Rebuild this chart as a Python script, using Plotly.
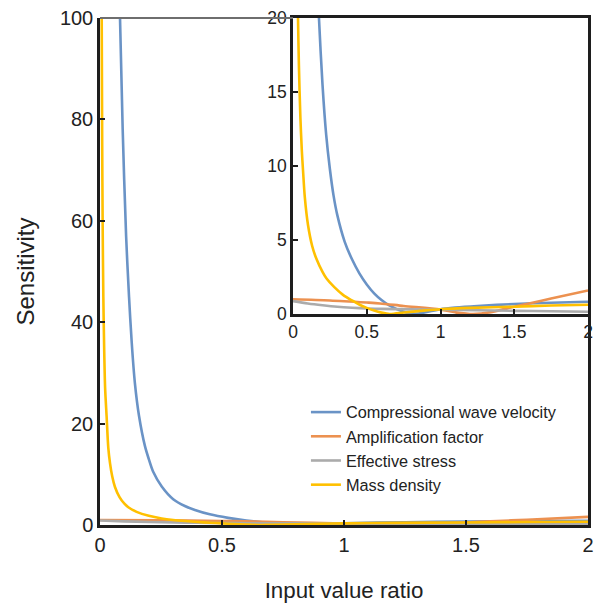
import plotly.graph_objects as go

# ---- data ----
names = ["Compressional wave velocity", "Amplification factor", "Effective stress", "Mass density"]
colors = ["#6A93C6", "#EC9150", "#ABABAB", "#FFC000"]

# Compressional wave velocity
vel_main_x = [0.082, 0.093, 0.107, 0.119, 0.13, 0.143, 0.16, 0.184, 0.2, 0.218, 0.253, 0.3, 0.35,
              0.389, 0.45, 0.525, 0.6, 0.7, 0.81, 0.9, 1.0, 1.25, 1.5, 1.75, 2.0]
vel_main_y = [100, 78, 57, 45, 36, 28, 21.5, 15.6, 13, 10.5, 7.6, 5.1, 3.7,
              2.96, 2.1, 1.4, 0.9, 0.4, 0.05, 0.15, 0.33, 0.55, 0.68, 0.77, 0.83]
# Compressional wave velocity
vel_inset_x = [0.15, 0.164, 0.176, 0.2, 0.225, 0.25, 0.275, 0.3, 0.35, 0.4, 0.45, 0.5, 0.55, 0.6,
               0.65, 0.7, 0.75, 0.8, 0.85, 0.9, 1.0, 1.1, 1.25, 1.5, 1.75, 2.0]
vel_inset_y = [28, 23.3, 20, 15.5, 12.1, 9.8, 8.0, 6.7, 4.9, 3.7, 2.75, 2.0, 1.4, 0.95,
               0.6, 0.35, 0.16, 0.02, 0.04, 0.12, 0.33, 0.44, 0.55, 0.68, 0.77, 0.83]

amp_x = [0.0, 0.25, 0.5, 0.59, 0.75, 1.0, 1.1, 1.22, 1.35, 1.5, 1.6, 1.75, 2.0]
amp_y = [1.0, 0.92, 0.78, 0.72, 0.55, 0.3, 0.12, 0.0, 0.15, 0.5, 0.72, 1.05, 1.6]

eff_x = [0.0, 0.1, 0.2, 0.3, 0.4, 0.5, 0.6, 0.8, 1.0, 1.25, 1.5, 1.75, 2.0]
eff_y = [0.88, 0.72, 0.6, 0.5, 0.43, 0.38, 0.35, 0.32, 0.3, 0.26, 0.22, 0.19, 0.16]

# Mass density
mass_main_x = [0.007, 0.009, 0.011, 0.0137, 0.017, 0.021, 0.027, 0.034, 0.041, 0.05, 0.061, 0.08,
               0.1, 0.116, 0.15, 0.2, 0.253, 0.3, 0.35, 0.4, 0.45, 0.5, 0.55, 0.6, 0.655, 0.7,
               0.8, 0.9, 1.0, 1.2, 1.5, 1.75, 2.0]
mass_main_y = [100, 75, 58.7, 45, 35, 27, 21.5, 15.2, 12.2, 9.6, 7.55, 5.5,
               4.2, 3.5, 2.6, 1.82, 1.3, 1.0, 0.78, 0.6, 0.45, 0.32, 0.2, 0.09, 0.0, 0.05,
               0.15, 0.25, 0.33, 0.42, 0.5, 0.58, 0.63]
# Mass density
mass_inset_x = [0.025, 0.03, 0.034, 0.04, 0.05, 0.06, 0.068, 0.08, 0.102, 0.13, 0.158, 0.2, 0.226,
                0.28, 0.339, 0.4, 0.452, 0.5, 0.55, 0.6, 0.655, 0.7, 0.8, 0.9, 1.0, 1.2, 1.5, 1.75, 2.0]
mass_inset_y = [28, 23, 20, 16.8, 13.3, 11, 9.7, 7.9, 6.0, 4.6, 3.75, 2.85, 2.42,
                1.82, 1.3, 0.92, 0.63, 0.42, 0.24, 0.1, 0.0, 0.05, 0.15, 0.25, 0.33, 0.42, 0.5, 0.58, 0.63]

x_ticks = [0, 0.5, 1, 1.5, 2]
x_ticktext = ["0", "0.5", "1", "1.5", "2"]
main_y_ticks = [0, 20, 40, 60, 80, 100]
inset_y_ticks = [0, 5, 10, 15, 20]

main_series = [(vel_main_x, vel_main_y), (amp_x, amp_y), (eff_x, eff_y), (mass_main_x, mass_main_y)]
inset_series = [(vel_inset_x, vel_inset_y), (amp_x, amp_y), (eff_x, eff_y), (mass_inset_x, mass_inset_y)]

fig = go.Figure()
for (xs, ys), nm, c in zip(main_series, names, colors):
    fig.add_trace(go.Scatter(x=xs, y=ys, mode="lines", name=nm, legendgroup=nm,
                             line=dict(color=c, width=2.6, shape="spline", smoothing=0.8),
                             xaxis="x", yaxis="y"))
for (xs, ys), nm, c in zip(inset_series, names, colors):
    fig.add_trace(go.Scatter(x=xs, y=ys, mode="lines", name=nm, legendgroup=nm, showlegend=False,
                             line=dict(color=c, width=2.6, shape="spline", smoothing=0.8),
                             xaxis="x2", yaxis="y2"))

axis_font = dict(family="Liberation Sans, Arial, sans-serif", color="#222222")
common = dict(showgrid=False, zeroline=False, showline=True, linecolor="#1E1E1E", linewidth=2.5,
              ticks="inside", ticklen=5, tickwidth=2, tickcolor="#1E1E1E",
              automargin=False)
fig.update_layout(
    width=606, height=603,
    margin=dict(l=100, r=18, t=18, b=78),
    paper_bgcolor="white", plot_bgcolor="white",
    font=dict(family="Liberation Sans, Arial, sans-serif", color="#222222"),
    showlegend=True,
    legend=dict(x=0.422, y=0.2564, xanchor="left", yanchor="top",
                font=dict(size=16.3, color="#222222"), bgcolor="rgba(0,0,0,0)",
                tracegroupgap=0, itemwidth=30),
    xaxis=dict(domain=[0, 1], range=[0, 2], tickvals=x_ticks, ticktext=x_ticktext,
               tickfont=dict(size=20, **axis_font), mirror=False,
               title=dict(text="Input value ratio", font=dict(size=22.3, **axis_font), standoff=28),
               **common),
    yaxis=dict(domain=[0, 1], range=[0, 100], tickvals=main_y_ticks,
               tickfont=dict(size=20, **axis_font), mirror=True,
               title=dict(text="Sensitivity", font=dict(size=24, **axis_font), standoff=19),
               **common),
    xaxis2=dict(domain=[0.3955, 1.0], range=[0, 2], anchor="y2", tickvals=x_ticks, ticktext=x_ticktext,
                tickfont=dict(size=17.5, **axis_font), mirror=True, **common),
    yaxis2=dict(domain=[0.416, 1.0], range=[0, 20], anchor="x2", tickvals=inset_y_ticks,
                tickfont=dict(size=17.5, **axis_font), mirror=True, **common),
    shapes=[dict(type="line", xref="paper", yref="paper", x0=0, x1=0.3955, y0=1, y1=1,
                 line=dict(color="#6E6E6E", width=1.8), layer="above")],
)

fig.write_html("out.html")
